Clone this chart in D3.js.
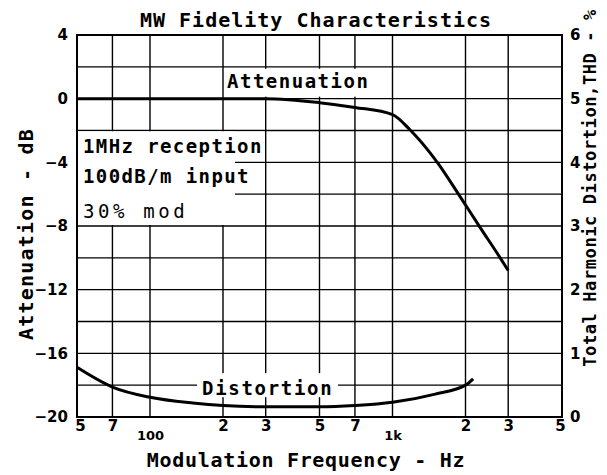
<!DOCTYPE html>
<html>
<head>
<meta charset="utf-8" />
<title>MW Fidelity Characteristics</title>
<style>
    body { margin: 0; background: #fff; }
    text { fill: #000; }
</style>
</head>
<body>
<div id="container"></div>
<script src="https://cdn.jsdelivr.net/npm/d3@7/dist/d3.min.js"></script>
<script>
    // values
    const freqTicks = [50, 70, 100, 200, 300, 500, 700, 1000, 2000, 3000, 5000]
    const freqLabels = ['5', '7', '100', '2', '3', '5', '7', '1k', '2', '3', '5']
    const dbTicks = [4, 0, -4, -8, -12, -16, -20]
    const thdTicks = [6, 5, 4, 3, 2, 1, 0]

    const attenFreq = [50, 100, 200, 300, 500, 700, 1000, 1180, 1530, 1900, 2300, 2780, 3000]
    const attenDb = [0, 0, 0, 0, -0.25, -0.55, -1.0, -1.95, -4.0, -6.15, -8.1, -10.0, -10.8]

    const thdFreq = [50, 70, 100, 150, 200, 300, 500, 700, 1000, 1500, 2000, 2150]
    const thdPct = [0.78, 0.47, 0.31, 0.22, 0.18, 0.16, 0.16, 0.18, 0.23, 0.36, 0.5, 0.6]

    const margin = { top: 35, right: 45, bottom: 58, left: 77 }
    const W = 607, H = 475
    const width = W - margin.left - margin.right
    const height = H - margin.top - margin.bottom
    const mono = '"DejaVu Sans Mono", monospace'
    const sans = '"DejaVu Sans", sans-serif'

    let svg = d3.select('#container').append('svg').attr('width', W).attr('height', H)
    let chart = svg.append('g').attr('transform', `translate(${margin.left}, ${margin.top})`)

    let x = d3.scaleLog().domain([50, 5000]).range([0, width])
    let yDb = d3.scaleLinear().domain([-20, 4]).range([height, 0])
    let yThd = d3.scaleLinear().domain([0, 6]).range([height, 0])

    // grid
    let grid = chart.append('g').attr('stroke', '#000').attr('stroke-width', 1.4)
    grid.selectAll('.v').data(freqTicks.slice(1, -1)).join('line')
        .attr('x1', d => x(d)).attr('x2', d => x(d)).attr('y1', 0).attr('y2', height)
    grid.selectAll('.h').data(d3.range(-18, 4, 2)).join('line')
        .attr('x1', 0).attr('x2', width).attr('y1', d => yDb(d)).attr('y2', d => yDb(d))

    // white patches behind the notes and the curve labels
    let patches = chart.append('g').attr('fill', '#fff')
    patches.append('rect').attr('x', 1).attr('y', yDb(-2) + 1).attr('width', 186).attr('height', 26)
    patches.append('rect').attr('x', 1).attr('y', yDb(-2) + 1).attr('width', 157).attr('height', yDb(-8) - yDb(-2) - 2)
    patches.append('rect').attr('x', 148).attr('y', yDb(2) + 2).attr('width', 150).attr('height', yDb(0) - yDb(2) - 4)
    patches.append('rect').attr('x', 120).attr('y', yDb(-18) - 12).attr('width', 141).attr('height', 24)

    // frame
    chart.append('rect').attr('width', width).attr('height', height)
        .attr('fill', 'none').attr('stroke', '#000').attr('stroke-width', 2)

    // curves
    let attenLine = d3.line().x(d => x(d[0])).y(d => yDb(d[1])).curve(d3.curveMonotoneX)
    chart.append('path').attr('d', attenLine(d3.zip(attenFreq, attenDb)))
        .attr('fill', 'none').attr('stroke', '#000').attr('stroke-width', 3)
    let thdLine = d3.line().x(d => x(d[0])).y(d => yThd(d[1])).curve(d3.curveMonotoneX)
    chart.append('path').attr('d', thdLine(d3.zip(thdFreq, thdPct)))
        .attr('fill', 'none').attr('stroke', '#000').attr('stroke-width', 3)

    // curve labels
    chart.append('text').attr('x', 150).attr('y', 53)
        .attr('font-family', mono).attr('font-weight', 'bold').attr('font-size', 19).attr('letter-spacing', 1.5)
        .text('Attenuation')
    chart.append('text').attr('x', 125).attr('y', 360)
        .attr('font-family', mono).attr('font-weight', 'bold').attr('font-size', 19).attr('letter-spacing', 1.7)
        .text('Distortion')

    // notes
    let notes = ['1MHz reception', '100dB/m input', '30% mod']
    chart.selectAll('.note').data(notes).join('text')
        .attr('x', 6).attr('y', (d, i) => [118, 148, 183][i])
        .attr('font-family', mono).attr('font-weight', (d, i) => i < 2 ? 'bold' : 'normal')
        .attr('fill', (d, i) => i < 2 ? '#000' : '#222')
        .attr('font-size', 19).attr('letter-spacing', (d, i) => i < 2 ? 1.4 : 3.6)
        .text(d => d)

    // axes
    let axisLeft = d3.axisLeft(yDb).tickValues(dbTicks).tickSize(0).tickPadding(9)
        .tickFormat(d => d < 0 ? '\u2212' + Math.abs(d) : d)
    chart.append('g').call(axisLeft).call(g => g.select('.domain').remove())
        .selectAll('text').attr('font-family', sans).attr('font-size', 15).attr('font-weight', 'bold')
    let axisRight = d3.axisRight(yThd).tickValues(thdTicks).tickSize(0).tickPadding(8).tickFormat(d3.format('d'))
    chart.append('g').attr('transform', `translate(${width}, 0)`).call(axisRight)
        .call(g => g.select('.domain').remove())
        .selectAll('text').attr('font-family', sans).attr('font-size', 15).attr('font-weight', 'bold')
    let small = l => l === '100' || l === '1k'
    let axisBottom = d3.axisBottom(x).tickValues(freqTicks).tickSize(0).tickPadding(6)
        .tickFormat((d, i) => freqLabels[i])
    chart.append('g').attr('transform', `translate(0, ${height})`).call(axisBottom)
        .call(g => g.select('.domain').remove())
        .selectAll('text')
        .attr('font-family', sans).attr('font-weight', 'bold')
        .attr('font-size', (d, i) => small(freqLabels[i]) ? 13 : 15)
        .attr('dy', (d, i) => small(freqLabels[i]) ? '1.3em' : '0.5em')
        .attr('dx', (d, i) => i === 0 ? 3 : (i === freqTicks.length - 1 ? -2 : 0))

    // titles
    svg.append('text').attr('x', 316).attr('y', 27).attr('text-anchor', 'middle')
        .attr('font-family', mono).attr('font-weight', 'bold').attr('font-size', 20).attr('letter-spacing', 1)
        .text('MW Fidelity Characteristics')
    svg.append('text').attr('x', 306).attr('y', 467).attr('text-anchor', 'middle')
        .attr('font-family', mono).attr('font-weight', 'bold').attr('font-size', 20).attr('letter-spacing', 0.7)
        .text('Modulation Frequency - Hz')
    svg.append('text').attr('transform', 'translate(33, 234) rotate(-90)').attr('text-anchor', 'middle')
        .attr('font-family', mono).attr('font-weight', 'bold').attr('font-size', 20).attr('letter-spacing', 1.2)
        .text('Attenuation - dB')
    svg.append('text').attr('transform', 'translate(596, 188) rotate(-90)').attr('text-anchor', 'middle')
        .attr('font-family', mono).attr('font-weight', 'bold').attr('font-size', 17).attr('letter-spacing', 0.6)
        .text('Total Harmonic Distortion,THD - %')
</script>
</body>
</html>
